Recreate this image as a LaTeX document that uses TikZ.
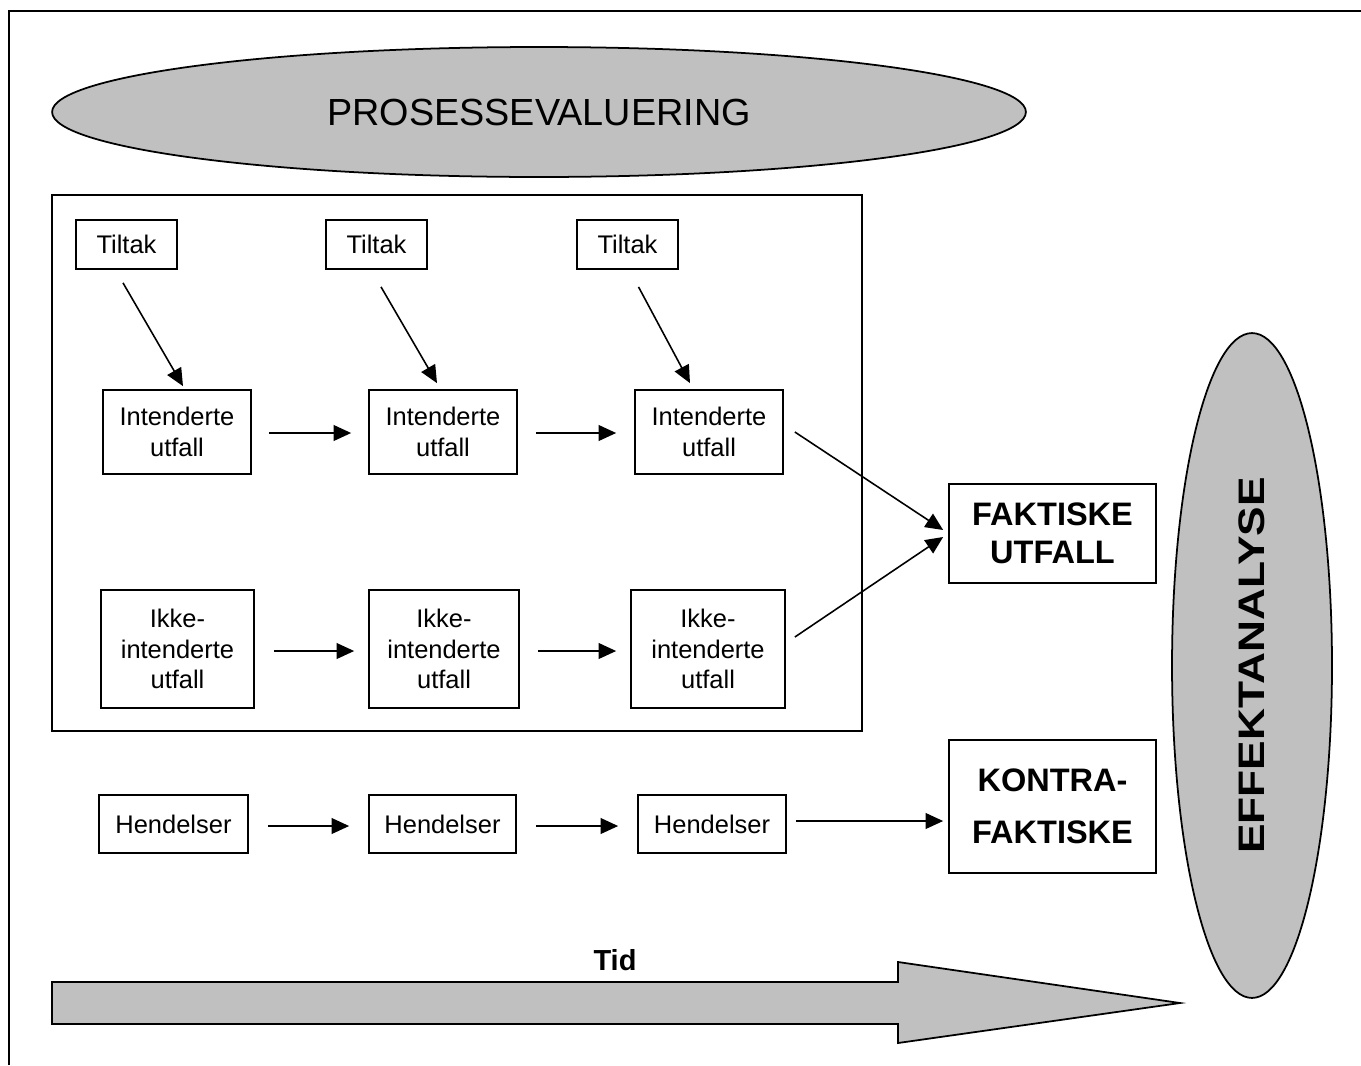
\documentclass[tikz,border=0pt]{standalone}
\usepackage{fontspec}
\setmainfont{Liberation Sans}
\usetikzlibrary{shapes.geometric,arrows.meta,calc}
\definecolor{shadegray}{RGB}{192,192,192}
\begin{document}
\begin{tikzpicture}[x=0.02cm, y=-0.02cm, line join=miter, >={Triangle[length=10pt,width=9pt]},
	box/.style={draw, line width=1pt, inner sep=0pt, align=center, font=\fontsize{14.5}{17.5}\selectfont},
	bigbox/.style={box, minimum width=4.14cm, font=\fontsize{18.5}{21.5}\selectfont\bfseries},
	blob/.style={draw, line width=1pt, ellipse, fill=shadegray, inner sep=0pt},
	arr/.style={->, line width=0.9pt}]
	\useasboundingbox (0,0) rectangle (1361,1065);
	% frame
	\draw[line width=1.1pt] (9,1065) -- (9,11) -- (1361,11);
	\node[blob, minimum width=19.48cm, minimum height=2.6cm, font=\fontsize{21.5}{24}\selectfont] (proc) at (539,112) {PROSESSEVALUERING};
	\node[blob, minimum width=3.2cm, minimum height=13.3cm] (eff) at (1252,665.5) {};
	\node[rotate=90, font=\fontsize{21}{24}\selectfont\bfseries] (efftext) at (eff.center) {\scalebox{1.2}[1]{EFFEKTANALYSE}};
	\draw[line width=1pt] (52,195) rectangle (862,731);
	% tiltak
	\node[box, minimum width=2.02cm, minimum height=0.98cm] (t1) at (126.5,244.5) {Tiltak};
	\node[box, minimum width=2.02cm, minimum height=0.98cm] (t2) at (376.5,244.5) {Tiltak};
	\node[box, minimum width=2.02cm, minimum height=0.98cm] (t3) at (627.5,244.5) {Tiltak};
	% intenderte
	\node[box, minimum width=2.96cm, minimum height=1.68cm] (i1) at (177,432) {Intenderte\\utfall};
	\node[box, minimum width=2.96cm, minimum height=1.68cm] (i2) at (443,432) {Intenderte\\utfall};
	\node[box, minimum width=2.96cm, minimum height=1.68cm] (i3) at (709,432) {Intenderte\\utfall};
	% ikke-intenderte
	\node[box, minimum width=3.06cm, minimum height=2.36cm] (k1) at (177.5,649) {Ikke-\\intenderte\\utfall};
	\node[box, minimum width=3.0cm, minimum height=2.36cm] (k2) at (444,649) {Ikke-\\intenderte\\utfall};
	\node[box, minimum width=3.08cm, minimum height=2.36cm] (k3) at (708,649) {Ikke-\\intenderte\\utfall};
	% hendelser
	\node[box, minimum width=2.98cm, minimum height=1.16cm] (h1) at (173.5,824) {Hendelser};
	\node[box, minimum width=2.94cm, minimum height=1.16cm] (h2) at (442.5,824) {Hendelser};
	\node[box, minimum width=2.96cm, minimum height=1.16cm] (h3) at (712,824) {Hendelser};
	% utfall
	\node[bigbox, minimum height=1.98cm] (fakt) at (1052.5,533.5) {FAKTISKE\\UTFALL};
	\node[bigbox, minimum height=2.66cm] (kontra) at (1052.5,806.5) {KONTRA-\\[8pt]FAKTISKE};
	% arrows
	\draw[arr] ($(t1.south)+(-3.5,13)$) -- ($(i1.north)+(6,-3)$);
	\draw[arr] ($(t2.south)+(4.5,17)$) -- ($(i2.north)+(-6,-6)$);
	\draw[arr] ($(t3.south)+(11,17)$) -- ($(i3.north)+(-19,-6)$);
	\draw[arr] ($(i1.east)+(17,1)$) -- ($(i2.west)+(-17,1)$);
	\draw[arr] ($(i2.east)+(18,1)$) -- ($(i3.west)+(-18,1)$);
	\draw[arr] ($(k1.east)+(19,2)$) -- ($(k2.west)+(-14,2)$);
	\draw[arr] ($(k2.east)+(18,2)$) -- ($(k3.west)+(-14,2)$);
	\draw[arr] ($(h1.east)+(19,2)$) -- ($(h2.west)+(-19,2)$);
	\draw[arr] ($(h2.east)+(19,2)$) -- ($(h3.west)+(-19,2)$);
	\draw[arr] ($(h3.east)+(9,-3)$) -- ($(h3.east -| kontra.west)+(-5,-3)$);
	\draw[arr] ($(i3.east)+(11,0)$) -- ($(fakt.west)+(-5,-3.5)$);
	\draw[arr] ($(k3.east)+(9,-12)$) -- ($(fakt.west)+(-5,3.5)$);
	% tid
	\draw[line width=1pt, fill=shadegray] (52,982) -- (898,982) -- (898,962) -- (1180,1003) -- (898,1043) -- (898,1024) -- (52,1024) -- cycle;
	\node[font=\fontsize{16.5}{19}\selectfont\bfseries] (tid) at (615,960) {Tid};
\end{tikzpicture}
\end{document}
